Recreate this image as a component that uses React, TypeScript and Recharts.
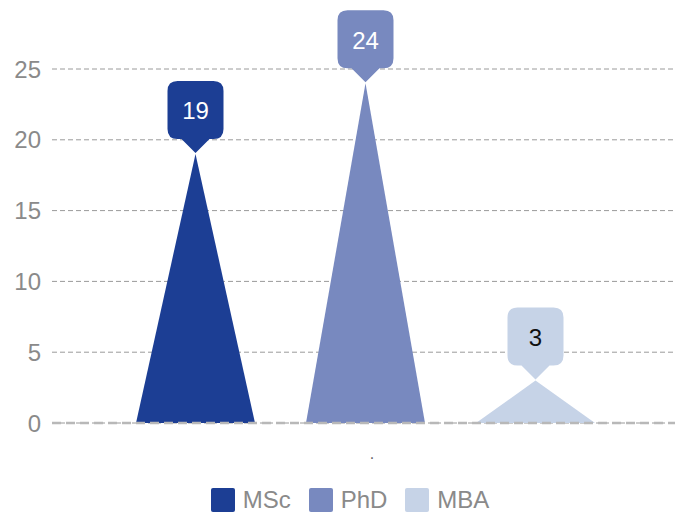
import React from 'react';
import { BarChart, Bar, XAxis, YAxis, CartesianGrid, Legend, LabelList } from 'recharts';

const categories = ['.'];
const seriesNames = ['MSc', 'PhD', 'MBA'];
const mscValues = [19];
const phdValues = [24];
const mbaValues = [3];
const yTicks = [0, 5, 10, 15, 20, 25];
const colors = ['#1c3e94', '#7889bf', '#c6d3e7'];
const labelTextColors = ['#ffffff', '#ffffff', '#111111'];

const data = categories.map((c, i) => ({
  name: c,
  MSc: mscValues[i],
  PhD: phdValues[i],
  MBA: mbaValues[i],
}));

const FONT = 'Liberation Sans, Arial, sans-serif';

const Triangle = (props: any) => {
  const { x, y, width, height, fill } = props;
  if (height == null || height <= 0) return null;
  const d = `M${x},${y + height} L${x + width / 2},${y} L${x + width},${y + height} Z`;
  return <path d={d} fill={fill} />;
};

const makeCallout = (fill: string, textColor: string) => (props: any) => {
  const { x, y, width, value } = props;
  const cx = x + width / 2;
  const tip = y - 1;
  const w = 56;
  const h = 58;
  const r = 10;
  const bottom = tip - 14;
  const top = bottom - h;
  const left = cx - w / 2;
  const right = cx + w / 2;
  const pw = 14;
  const d = [
    `M${left + r},${top}`,
    `L${right - r},${top}`,
    `Q${right},${top} ${right},${top + r}`,
    `L${right},${bottom - r}`,
    `Q${right},${bottom} ${right - r},${bottom}`,
    `L${cx + pw},${bottom}`,
    `L${cx},${tip}`,
    `L${cx - pw},${bottom}`,
    `L${left + r},${bottom}`,
    `Q${left},${bottom} ${left},${bottom - r}`,
    `L${left},${top + r}`,
    `Q${left},${top} ${left + r},${top}`,
    'Z',
  ].join(' ');
  return (
    <g>
      <path d={d} fill={fill} />
      <text
        x={cx}
        y={top + h / 2 + 1}
        textAnchor="middle"
        dominantBaseline="central"
        fill={textColor}
        fontSize={24}
        fontFamily={FONT}
      >
        {value}
      </text>
    </g>
  );
};

const XTick = (props: any) => {
  const { x, y, payload } = props;
  return (
    <text x={x + 7} y={y + 28} textAnchor="middle" fill="#666" fontSize={16} fontFamily={FONT}>
      {payload.value}
    </text>
  );
};

const LegendContent = () => (
  <div
    style={{
      display: 'flex',
      justifyContent: 'center',
      alignItems: 'center',
      height: 24,
      fontFamily: FONT,
    }}
  >
    {seriesNames.map((n, i) => (
      <div key={n} style={{ display: 'flex', alignItems: 'center', marginRight: i < 2 ? 18 : 0 }}>
        <div style={{ width: 24, height: 24, borderRadius: 2, background: colors[i], marginRight: 8 }} />
        <span style={{ color: '#8a8a8a', fontSize: 24, lineHeight: '24px' }}>{n}</span>
      </div>
    ))}
  </div>
);

export default function App() {
  return (
    <div style={{ width: 675, height: 508, overflow: 'hidden' }}>
      <BarChart
        width={688}
        height={508}
        data={data}
        margin={{ top: 61, right: 4, bottom: 4, left: 0 }}
        barSize={119}
        barGap={51}
      >
        <CartesianGrid vertical={false} stroke="#9a9a9a" strokeDasharray="5 3" />
        <YAxis
          domain={[0, 25]}
          ticks={yTicks}
          width={44}
          axisLine={false}
          tickLine={false}
          tickSize={0}
          tickMargin={11}
          tick={{ fill: '#8a8a8a', fontSize: 24, fontFamily: FONT }}
        />
        <XAxis
          dataKey="name"
          height={65}
          padding={{ left: 0, right: 14 }}
          tickLine={false}
          axisLine={{ stroke: '#b8b8b8', strokeWidth: 2.5, strokeDasharray: '9 5' }}
          tick={<XTick />}
        />
        <Legend verticalAlign="bottom" content={<LegendContent />} />
        <Bar dataKey="MSc" fill={colors[0]} shape={<Triangle />} isAnimationActive={false}>
          <LabelList dataKey="MSc" content={makeCallout(colors[0], labelTextColors[0])} />
        </Bar>
        <Bar dataKey="PhD" fill={colors[1]} shape={<Triangle />} isAnimationActive={false}>
          <LabelList dataKey="PhD" content={makeCallout(colors[1], labelTextColors[1])} />
        </Bar>
        <Bar dataKey="MBA" fill={colors[2]} shape={<Triangle />} isAnimationActive={false}>
          <LabelList dataKey="MBA" content={makeCallout(colors[2], labelTextColors[2])} />
        </Bar>
      </BarChart>
    </div>
  );
}
